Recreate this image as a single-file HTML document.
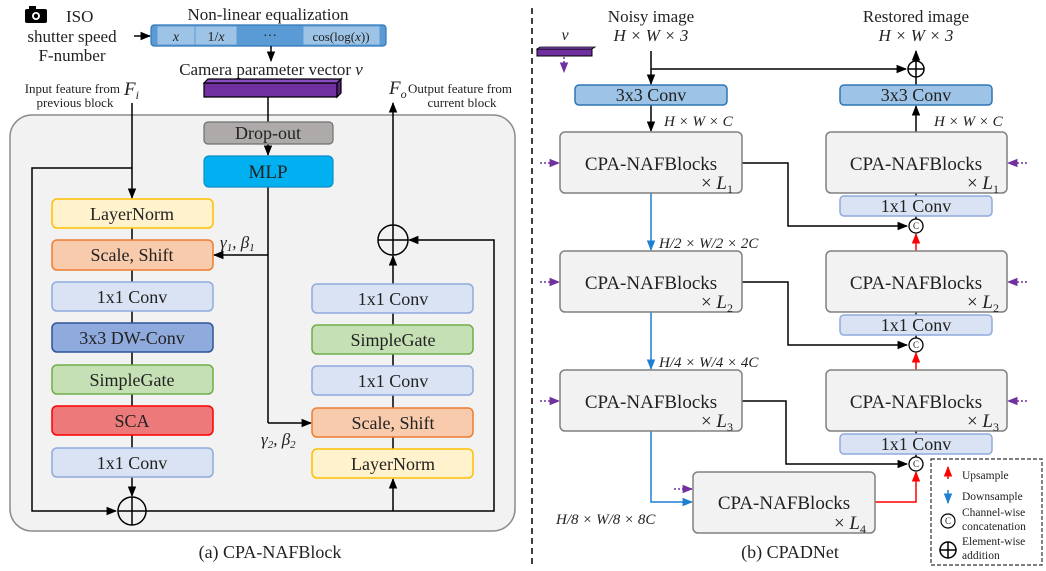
<!DOCTYPE html>
<html><head><meta charset="utf-8"><style>
html,body{margin:0;padding:0;background:#fff}
svg{display:block}
text{font-family:"Liberation Serif",serif;fill:#222}
.i{font-style:italic}
</style></head><body>
<svg width="1046" height="571" viewBox="0 0 1046 571" xmlns="http://www.w3.org/2000/svg">
<defs>
<marker id="a" viewBox="0 0 10 10" refX="9" refY="5" markerWidth="7" markerHeight="7" orient="auto-start-reverse"><path d="M0,1 L10,5 L0,9z" fill="#000"/></marker>
<marker id="ab" viewBox="0 0 10 10" refX="9" refY="5" markerWidth="7" markerHeight="7" orient="auto"><path d="M0,1 L10,5 L0,9z" fill="#1f7fd0"/></marker>
<marker id="ar" viewBox="0 0 10 10" refX="9" refY="5" markerWidth="7" markerHeight="7" orient="auto"><path d="M0,1 L10,5 L0,9z" fill="#f00"/></marker>
<marker id="ap" viewBox="0 0 10 10" refX="9" refY="5" markerWidth="7" markerHeight="7" orient="auto"><path d="M0,1 L10,5 L0,9z" fill="#7030a0"/></marker>
</defs>

<rect x="10" y="115" width="505" height="416" rx="22" fill="#f2f2f2" stroke="#8c8c8c" stroke-width="1.5"/>
<rect x="25" y="9" width="22" height="14" rx="2" fill="#000"/><rect x="29" y="6" width="7" height="4" fill="#000"/><circle cx="36" cy="16" r="4" fill="#fff"/><circle cx="36" cy="16" r="2.2" fill="#000"/>
<text x="66" y="22" font-size="17">ISO</text>
<text x="72" y="42" font-size="17" text-anchor="middle">shutter speed</text>
<text x="72" y="61" font-size="17" text-anchor="middle">F-number</text>
<line x1="134" y1="36" x2="150" y2="36" stroke="#000" stroke-width="1.5" marker-end="url(#a)"/>
<text x="268" y="20" font-size="17" text-anchor="middle">Non-linear equalization</text>
<rect x="151" y="25" width="235" height="21" rx="3" fill="#5b9bd5" stroke="#2e75b6" stroke-width="1.2"/>
<rect x="157" y="26" width="38" height="19" fill="#9dc3e6" stroke="#5b9bd5"/>
<rect x="195" y="26" width="42" height="19" fill="#9dc3e6" stroke="#5b9bd5"/>
<rect x="303" y="26" width="77" height="19" fill="#9dc3e6" stroke="#5b9bd5"/>
<text x="176" y="41" font-size="14" class="i" text-anchor="middle">x</text>
<text x="216" y="41" font-size="14" text-anchor="middle">1/<tspan class="i">x</tspan></text>
<text x="270" y="40" font-size="14" text-anchor="middle">···</text>
<text x="341" y="41" font-size="13" text-anchor="middle" font-family="Liberation Sans">cos(log(<tspan class="i">x</tspan>))</text>
<line x1="271" y1="46" x2="271" y2="61" stroke="#000" stroke-width="1.5" marker-end="url(#a)"/>
<text x="271" y="75" font-size="17" text-anchor="middle">Camera parameter vector <tspan class="i">v</tspan></text>
<polygon points="204,83 337,83 337,97 204,97" fill="#7030a0" stroke="#000" stroke-width="1.2"/>
<polygon points="204,83 208,79 341,79 337,83" fill="#8a4cc0" stroke="#000" stroke-width="1.2"/>
<polygon points="337,83 341,79 341,93 337,97" fill="#5a2080" stroke="#000" stroke-width="1.2"/>

<text x="120" y="93" font-size="13" text-anchor="end">Input feature from</text>
<text x="75" y="107" font-size="13" text-anchor="middle">previous block</text>
<text x="124" y="95" font-size="19" class="i">F<tspan font-size="12" dy="4">i</tspan></text>
<text x="389" y="94" font-size="19" class="i">F<tspan font-size="12" dy="4">o</tspan></text>
<text x="408" y="93" font-size="13">Output feature from</text>
<text x="462" y="107" font-size="13" text-anchor="middle">current block</text>

<g stroke="#000" stroke-width="1.5" fill="none">
<line x1="132" y1="103" x2="132" y2="198" marker-end="url(#a)"/>
<polyline points="132,168 32,168 32,511 116,511" marker-end="url(#a)"/>
<line x1="268" y1="97" x2="268" y2="122"/>
<line x1="268" y1="144" x2="268" y2="155" marker-end="url(#a)"/>
<line x1="268" y1="187" x2="268" y2="423"/>
<line x1="268" y1="255" x2="214" y2="255" marker-end="url(#a)"/>
<line x1="268" y1="423" x2="311" y2="423" marker-end="url(#a)"/>
<line x1="132" y1="228" x2="132" y2="240"/><line x1="132" y1="270" x2="132" y2="282"/><line x1="132" y1="311" x2="132" y2="323"/><line x1="132" y1="352" x2="132" y2="365"/><line x1="132" y1="394" x2="132" y2="406"/><line x1="132" y1="435" x2="132" y2="448"/>
<line x1="132" y1="477" x2="132" y2="496" marker-end="url(#a)"/>
<polyline points="146,511 494,511 494,240 409,240" marker-end="url(#a)"/>
<line x1="393" y1="511" x2="393" y2="479" marker-end="url(#a)"/>
<line x1="393" y1="449" x2="393" y2="437"/><line x1="393" y1="408" x2="393" y2="395"/><line x1="393" y1="366" x2="393" y2="354"/><line x1="393" y1="325" x2="393" y2="313"/>
<line x1="393" y1="284" x2="393" y2="256" marker-end="url(#a)"/>
<line x1="393" y1="225" x2="393" y2="103" marker-end="url(#a)"/>
<circle cx="132" cy="511" r="14"/><line x1="118" y1="511" x2="146" y2="511"/><line x1="132" y1="497" x2="132" y2="525"/>
<circle cx="393" cy="240" r="15"/><line x1="378" y1="240" x2="408" y2="240"/><line x1="393" y1="225" x2="393" y2="255"/>
</g>

<rect x="204" y="122" width="129" height="22" rx="4" fill="#aeaaaa" stroke="#6f6f6f" stroke-width="1.2"/>
<text x="268" y="139" font-size="18" text-anchor="middle">Drop-out</text>
<rect x="204" y="156" width="129" height="31" rx="5" fill="#00b0f0" stroke="#0a90c8" stroke-width="1.2"/>
<text x="268" y="178" font-size="19" text-anchor="middle">MLP</text>

<g stroke-width="1.5">
<rect x="52" y="199" width="161" height="29" rx="5" fill="#fff2cc" stroke="#ffc000"/>
<rect x="52" y="240" width="161" height="30" rx="5" fill="#f8cbad" stroke="#ed7d31"/>
<rect x="52" y="282" width="161" height="29" rx="5" fill="#dae3f3" stroke="#8faadc"/>
<rect x="52" y="323" width="161" height="29" rx="5" fill="#8faadc" stroke="#2f5597"/>
<rect x="52" y="365" width="161" height="29" rx="5" fill="#c5e0b4" stroke="#70ad47"/>
<rect x="52" y="406" width="161" height="29" rx="5" fill="#ec7a7a" stroke="#ff0000"/>
<rect x="52" y="448" width="161" height="29" rx="5" fill="#dae3f3" stroke="#8faadc"/>
<rect x="312" y="284" width="161" height="29" rx="5" fill="#dae3f3" stroke="#8faadc"/>
<rect x="312" y="325" width="161" height="29" rx="5" fill="#c5e0b4" stroke="#70ad47"/>
<rect x="312" y="366" width="161" height="29" rx="5" fill="#dae3f3" stroke="#8faadc"/>
<rect x="312" y="408" width="161" height="29" rx="5" fill="#f8cbad" stroke="#ed7d31"/>
<rect x="312" y="449" width="161" height="29" rx="5" fill="#fff2cc" stroke="#ffc000"/>
</g>
<g font-size="18" text-anchor="middle">
<text x="132" y="220">LayerNorm</text>
<text x="132" y="261">Scale, Shift</text>
<text x="132" y="303">1x1 Conv</text>
<text x="132" y="344">3x3 DW-Conv</text>
<text x="132" y="386">SimpleGate</text>
<text x="132" y="427">SCA</text>
<text x="132" y="469">1x1 Conv</text>
<text x="393" y="305">1x1 Conv</text>
<text x="393" y="346">SimpleGate</text>
<text x="393" y="387">1x1 Conv</text>
<text x="393" y="429">Scale, Shift</text>
<text x="393" y="470">LayerNorm</text>
</g>
<text x="220" y="248" font-size="17" class="i">γ<tspan font-size="11" dy="3">1</tspan><tspan dy="-3">, β</tspan><tspan font-size="11" dy="3">1</tspan></text>
<text x="261" y="445" font-size="17" class="i">γ<tspan font-size="11" dy="3">2</tspan><tspan dy="-3">, β</tspan><tspan font-size="11" dy="3">2</tspan></text>
<text x="270" y="558" font-size="18" text-anchor="middle">(a) CPA-NAFBlock</text>

<line x1="532" y1="8" x2="532" y2="565" stroke="#000" stroke-width="1.5" stroke-dasharray="6,4"/>

<text x="565" y="40" font-size="16" class="i" text-anchor="middle">v</text>
<polygon points="537,49 592,49 592,56 537,56" fill="#7030a0" stroke="#000"/>
<polygon points="537,49 540,47 595,47 592,49" fill="#8a4cc0" stroke="#000" stroke-width="0.8"/>
<line x1="564" y1="57" x2="564" y2="72" stroke="#7030a0" stroke-width="1.5" stroke-dasharray="2,2" marker-end="url(#ap)"/>

<text x="651" y="22" font-size="17" text-anchor="middle">Noisy image</text>
<text x="651" y="41" font-size="17" class="i" text-anchor="middle">H × W × 3</text>
<text x="916" y="22" font-size="17" text-anchor="middle">Restored image</text>
<text x="916" y="41" font-size="17" class="i" text-anchor="middle">H × W × 3</text>

<g stroke="#000" stroke-width="1.5" fill="none">
<line x1="651" y1="51" x2="651" y2="84" marker-end="url(#a)"/>
<line x1="651" y1="69" x2="906" y2="69" marker-end="url(#a)"/>
<circle cx="916" cy="69" r="8"/><line x1="908" y1="69" x2="924" y2="69"/><line x1="916" y1="61" x2="916" y2="77"/>
<line x1="916" y1="61" x2="916" y2="51" marker-end="url(#a)"/>
<line x1="916" y1="85" x2="916" y2="77"/>
<line x1="651" y1="105" x2="651" y2="131" marker-end="url(#a)"/>
<line x1="916" y1="132" x2="916" y2="106" marker-end="url(#a)"/>
<polyline points="742,163 788,163 788,226 907,226" marker-end="url(#a)"/>
<polyline points="742,282 788,282 788,345 907,345" marker-end="url(#a)"/>
<polyline points="742,401 786,401 786,464 907,464" marker-end="url(#a)"/>
<line x1="916" y1="193" x2="916" y2="219"/><line x1="916" y1="312" x2="916" y2="338"/><line x1="916" y1="431" x2="916" y2="457"/>
</g>
<g stroke="#1f7fd0" stroke-width="1.5" fill="none">
<line x1="651" y1="193" x2="651" y2="250" marker-end="url(#ab)"/>
<line x1="651" y1="312" x2="651" y2="369" marker-end="url(#ab)"/>
<polyline points="651,431 651,502 692,502" marker-end="url(#ab)"/>
</g>
<g stroke="#f00" stroke-width="1.5" fill="none">
<line x1="916" y1="251" x2="916" y2="234" marker-end="url(#ar)"/>
<line x1="916" y1="370" x2="916" y2="353" marker-end="url(#ar)"/>
<polyline points="875,502 916,502 916,472" marker-end="url(#ar)"/>
</g>
<g stroke="#7030a0" stroke-width="1.5" stroke-dasharray="2,2" fill="none">
<line x1="540" y1="163" x2="559" y2="163" marker-end="url(#ap)"/>
<line x1="540" y1="282" x2="559" y2="282" marker-end="url(#ap)"/>
<line x1="540" y1="401" x2="559" y2="401" marker-end="url(#ap)"/>
<line x1="1027" y1="163" x2="1008" y2="163" marker-end="url(#ap)"/>
<line x1="1027" y1="282" x2="1008" y2="282" marker-end="url(#ap)"/>
<line x1="1027" y1="401" x2="1008" y2="401" marker-end="url(#ap)"/>
<line x1="674" y1="489" x2="692" y2="489" marker-end="url(#ap)"/>
</g>

<g stroke-width="1.5">
<rect x="575" y="85" width="152" height="20" rx="4" fill="#9dc3e6" stroke="#2e75b6"/>
<rect x="840" y="85" width="152" height="20" rx="4" fill="#9dc3e6" stroke="#2e75b6"/>
<rect x="560" y="132" width="182" height="61" rx="5" fill="#f2f2f2" stroke="#808080"/>
<rect x="560" y="251" width="182" height="61" rx="5" fill="#f2f2f2" stroke="#808080"/>
<rect x="560" y="370" width="182" height="61" rx="5" fill="#f2f2f2" stroke="#808080"/>
<rect x="826" y="132" width="181" height="61" rx="5" fill="#f2f2f2" stroke="#808080"/>
<rect x="826" y="251" width="181" height="61" rx="5" fill="#f2f2f2" stroke="#808080"/>
<rect x="826" y="370" width="181" height="61" rx="5" fill="#f2f2f2" stroke="#808080"/>
<rect x="693" y="472" width="182" height="61" rx="5" fill="#f2f2f2" stroke="#808080"/>
<rect x="840" y="196" width="152" height="20" rx="4" fill="#dae3f3" stroke="#8faadc"/>
<rect x="840" y="315" width="152" height="20" rx="4" fill="#dae3f3" stroke="#8faadc"/>
<rect x="840" y="434" width="152" height="20" rx="4" fill="#dae3f3" stroke="#8faadc"/>
</g>
<g stroke="#000" stroke-width="1.3" fill="#fff">
<circle cx="916" cy="226" r="7"/><circle cx="916" cy="345" r="7"/><circle cx="916" cy="464" r="7"/>
</g>
<g font-size="9" text-anchor="middle"><text x="916" y="229">C</text><text x="916" y="348">C</text><text x="916" y="467">C</text></g>

<g font-size="18" text-anchor="middle">
<text x="651" y="101">3x3 Conv</text><text x="916" y="101">3x3 Conv</text>
<text x="916" y="212">1x1 Conv</text><text x="916" y="331">1x1 Conv</text><text x="916" y="450">1x1 Conv</text>
</g>
<g font-size="19" text-anchor="middle">
<text x="651" y="170">CPA-NAFBlocks</text><text x="651" y="289">CPA-NAFBlocks</text><text x="651" y="408">CPA-NAFBlocks</text>
<text x="916" y="170">CPA-NAFBlocks</text><text x="916" y="289">CPA-NAFBlocks</text><text x="916" y="408">CPA-NAFBlocks</text>
<text x="784" y="509">CPA-NAFBlocks</text>
</g>
<g font-size="19" text-anchor="end">
<text x="733" y="189">× <tspan class="i">L</tspan><tspan font-size="12" dy="4">1</tspan></text>
<text x="733" y="308">× <tspan class="i">L</tspan><tspan font-size="12" dy="4">2</tspan></text>
<text x="733" y="427">× <tspan class="i">L</tspan><tspan font-size="12" dy="4">3</tspan></text>
<text x="999" y="189">× <tspan class="i">L</tspan><tspan font-size="12" dy="4">1</tspan></text>
<text x="999" y="308">× <tspan class="i">L</tspan><tspan font-size="12" dy="4">2</tspan></text>
<text x="999" y="427">× <tspan class="i">L</tspan><tspan font-size="12" dy="4">3</tspan></text>
<text x="866" y="529">× <tspan class="i">L</tspan><tspan font-size="12" dy="4">4</tspan></text>
</g>
<g font-size="15" class="i">
<text x="664" y="126">H × W × C</text>
<text x="934" y="126">H × W × C</text>
<text x="659" y="248">H/2 × W/2 × 2C</text>
<text x="659" y="367">H/4 × W/4 × 4C</text>
<text x="556" y="524">H/8 × W/8 × 8C</text>
</g>
<text x="790" y="558" font-size="18" text-anchor="middle">(b) CPADNet</text>

<rect x="931" y="459" width="111" height="106" fill="#fff" stroke="#333" stroke-width="1.2" stroke-dasharray="4,2"/>
<line x1="948" y1="479" x2="948" y2="467" stroke="#f00" stroke-width="1.5" marker-end="url(#ar)"/>
<text x="962" y="479" font-size="11.5">Upsample</text>
<line x1="948" y1="490" x2="948" y2="503" stroke="#1f7fd0" stroke-width="1.5" marker-end="url(#ab)"/>
<text x="962" y="500" font-size="11.5">Downsample</text>
<circle cx="948" cy="521" r="7" fill="#fff" stroke="#000" stroke-width="1.2"/><text x="948" y="524" font-size="9" text-anchor="middle">C</text>
<text x="962" y="516" font-size="11.5">Channel-wise</text>
<text x="962" y="530" font-size="11.5">concatenation</text>
<circle cx="948" cy="550" r="8" fill="none" stroke="#000" stroke-width="1.5"/><line x1="940" y1="550" x2="956" y2="550" stroke="#000" stroke-width="1.5"/><line x1="948" y1="542" x2="948" y2="558" stroke="#000" stroke-width="1.5"/>
<text x="962" y="545" font-size="11.5">Element-wise</text>
<text x="962" y="559" font-size="11.5">addition</text>
</svg>
</body></html>
